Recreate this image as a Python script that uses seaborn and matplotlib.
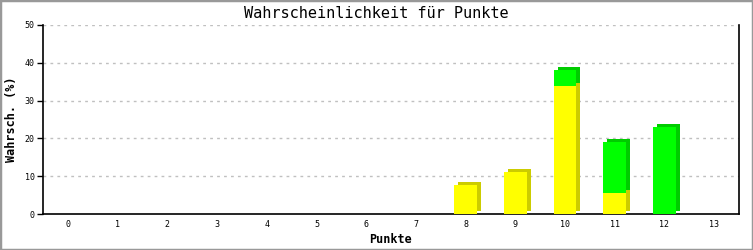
import matplotlib
matplotlib.use("Agg")
import matplotlib.pyplot as plt
import matplotlib.patheffects as pe
from matplotlib.patches import Rectangle
import seaborn as sns
import numpy as np

categories = ["0", "1", "2", "3", "4", "5", "6", "7", "8", "9", "10", "11", "12", "13"]
yellow_values = [0, 0, 0, 0, 0, 0, 0, 0, 7.6, 11.0, 33.8, 5.6, 0, 0]
green_values = [0, 0, 0, 0, 0, 0, 0, 0, 0, 0, 4.4, 13.5, 23.0, 0]
y_ticks = [0, 10, 20, 30, 40, 50]

sns.set_theme(style="white")
plt.rcParams["font.family"] = ["DejaVu Sans Mono", "DejaVu Sans"]

W, H, DPI = 753, 250, 100
fig = plt.figure(figsize=(W / DPI, H / DPI), dpi=DPI)
fig.patch.set_facecolor("white")
ax = fig.add_axes([43 / W, 36 / H, (739 - 43) / W, (214 - 25) / H])
ax.set_facecolor("white")

px = 72 / DPI
shadow_y = [pe.SimplePatchShadow(offset=(4 * px, 3 * px), shadow_rgbFace="#cccc00", alpha=1.0), pe.Normal()]
shadow_g = [pe.SimplePatchShadow(offset=(4 * px, 3 * px), shadow_rgbFace="#00cc00", alpha=1.0), pe.Normal()]

sns.barplot(x=categories, y=yellow_values, color="#ffff00", saturation=1, width=0.46,
            linewidth=0, ax=ax, zorder=3)
n_y = len(ax.patches)
sns.barplot(x=categories, y=green_values, bottom=yellow_values, color="#00ff00", saturation=1,
            width=0.46, linewidth=0, ax=ax, zorder=3)
for i, p in enumerate(ax.patches):
    if p.get_height() > 0:
        p.set_path_effects(shadow_y if i < n_y else shadow_g)
    else:
        p.set_visible(False)

ax.set_xlim(-0.5, 13.5)
ax.set_ylim(0, 50)
ax.set_yticks(y_ticks)
ax.set_yticklabels([str(t) for t in y_ticks])
for t in y_ticks[1:]:
    ax.axhline(t, color="#c0c0c0", linewidth=1.0, linestyle=(0, (2, 3)), zorder=1)

for side in ["left", "right", "bottom"]:
    ax.spines[side].set_visible(True)
    ax.spines[side].set_color("black")
    ax.spines[side].set_linewidth(1.2)
ax.spines["top"].set_visible(False)

ax.tick_params(axis="y", which="both", left=True, length=4, width=1, color="black",
               labelsize=6, pad=2, labelcolor="black")
ax.tick_params(axis="x", which="both", bottom=False, length=0, labelsize=6, pad=4, labelcolor="black")

ax.set_xlabel("Punkte", fontsize=8.5, fontweight="bold", color="black")
ax.set_ylabel("Wahrsch. (%)", fontsize=8.5, fontweight="bold", color="black")
ax.xaxis.set_label_coords(0.5, (214 - 233) / 189)
ax.yaxis.set_label_coords((18 - 43) / 696, 0.5)
fig.text(0.5, 1 - 13 / H, "Wahrscheinlichkeit für Punkte", ha="center", va="center",
         fontsize=11, color="black")

fig.patches.append(Rectangle((0, 0), 1, 1, transform=fig.transFigure, fill=False,
                             edgecolor="#999999", linewidth=2.5, zorder=10))

fig.savefig("out.png", dpi=DPI, facecolor="white")
